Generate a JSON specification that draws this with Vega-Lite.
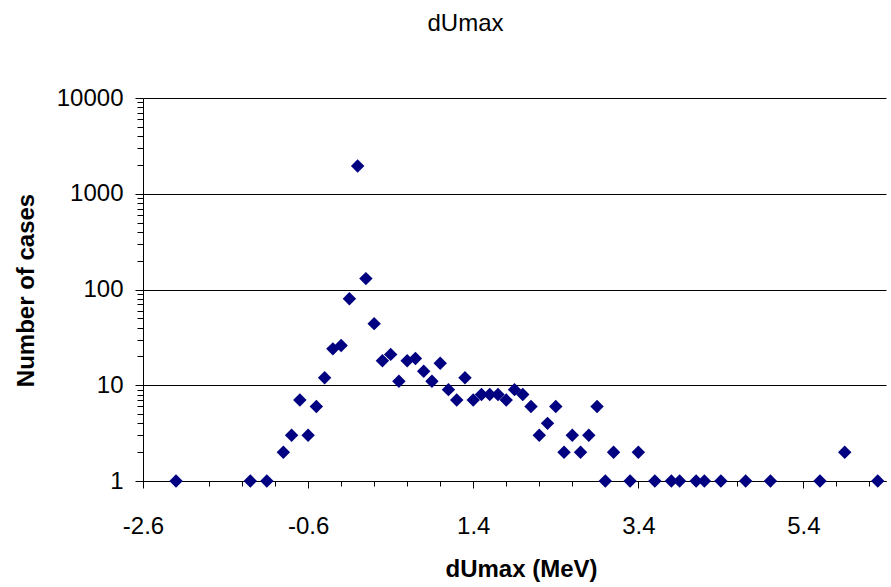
{
  "$schema": "https://vega.github.io/schema/vega-lite/v6.json",
  "width": 743,
  "height": 383,
  "autosize": {"type": "none"},
  "padding": {"left": 143, "top": 98, "right": 5, "bottom": 106},
  "background": "white",
  "config": {
    "view": {"stroke": null},
    "font": "Liberation Sans",
    "axis": {"labelFont": "Liberation Sans", "titleFont": "Liberation Sans", "labelColor": "black", "titleColor": "black", "tickColor": "black", "domainColor": "black", "gridColor": "black", "gridOpacity": 1, "domainWidth": 1, "tickWidth": 1, "gridWidth": 1}
  },
  "title": {"text": "dUmax", "fontSize": 24, "fontWeight": "normal", "font": "Liberation Sans", "color": "black", "offset": 50, "dx": -49, "anchor": "middle"},
  "data": {"values": [
    {"dUmax": -2.2, "cases": 1},
    {"dUmax": -1.3, "cases": 1},
    {"dUmax": -1.1, "cases": 1},
    {"dUmax": -0.9, "cases": 2},
    {"dUmax": -0.8, "cases": 3},
    {"dUmax": -0.7, "cases": 7},
    {"dUmax": -0.6, "cases": 3},
    {"dUmax": -0.5, "cases": 6},
    {"dUmax": -0.4, "cases": 12},
    {"dUmax": -0.3, "cases": 24},
    {"dUmax": -0.2, "cases": 26},
    {"dUmax": -0.1, "cases": 80},
    {"dUmax": 0.0, "cases": 1950},
    {"dUmax": 0.1, "cases": 130},
    {"dUmax": 0.2, "cases": 44},
    {"dUmax": 0.3, "cases": 18},
    {"dUmax": 0.4, "cases": 21},
    {"dUmax": 0.5, "cases": 11},
    {"dUmax": 0.6, "cases": 18},
    {"dUmax": 0.7, "cases": 19},
    {"dUmax": 0.8, "cases": 14},
    {"dUmax": 0.9, "cases": 11},
    {"dUmax": 1.0, "cases": 17},
    {"dUmax": 1.1, "cases": 9},
    {"dUmax": 1.2, "cases": 7},
    {"dUmax": 1.3, "cases": 12},
    {"dUmax": 1.4, "cases": 7},
    {"dUmax": 1.5, "cases": 8},
    {"dUmax": 1.6, "cases": 8},
    {"dUmax": 1.7, "cases": 8},
    {"dUmax": 1.8, "cases": 7},
    {"dUmax": 1.9, "cases": 9},
    {"dUmax": 2.0, "cases": 8},
    {"dUmax": 2.1, "cases": 6},
    {"dUmax": 2.2, "cases": 3},
    {"dUmax": 2.3, "cases": 4},
    {"dUmax": 2.4, "cases": 6},
    {"dUmax": 2.5, "cases": 2},
    {"dUmax": 2.6, "cases": 3},
    {"dUmax": 2.7, "cases": 2},
    {"dUmax": 2.8, "cases": 3},
    {"dUmax": 2.9, "cases": 6},
    {"dUmax": 3.0, "cases": 1},
    {"dUmax": 3.1, "cases": 2},
    {"dUmax": 3.3, "cases": 1},
    {"dUmax": 3.4, "cases": 2},
    {"dUmax": 3.6, "cases": 1},
    {"dUmax": 3.8, "cases": 1},
    {"dUmax": 3.9, "cases": 1},
    {"dUmax": 4.1, "cases": 1},
    {"dUmax": 4.2, "cases": 1},
    {"dUmax": 4.4, "cases": 1},
    {"dUmax": 4.7, "cases": 1},
    {"dUmax": 5.0, "cases": 1},
    {"dUmax": 5.6, "cases": 1},
    {"dUmax": 5.9, "cases": 2},
    {"dUmax": 6.3, "cases": 1}
  ]},
  "layer": [
    {
      "mark": {"type": "point", "shape": "diamond", "filled": true, "opacity": 0, "size": 10},
      "encoding": {
        "x": {"field": "dUmax", "type": "quantitative", "scale": {"domain": [-2.6, 6.4], "nice": false, "zero": false},
          "axis": {"orient": "bottom", "values": [-2.6,-2.2,-1.8,-1.4,-1.0,-0.6,-0.2,0.2,0.6,1.0,1.4,1.8,2.2,2.6,3.0,3.4,3.8,4.2,4.6,5.0,5.4,5.8,6.2], "labels": false, "domain": false, "grid": false, "tickSize": 5, "title": null}},
        "y": {"field": "cases", "type": "quantitative", "scale": {"type": "log", "domain": [1, 10000], "nice": false},
          "axis": {"orient": "left", "values": [2,3,4,5,6,7,8,9,20,30,40,50,60,70,80,90,200,300,400,500,600,700,800,900,2000,3000,4000,5000,6000,7000,8000,9000], "labels": false, "domain": false, "grid": false, "tickSize": 6, "title": null}}
      }
    },
    {
      "mark": {"type": "point", "shape": "diamond", "filled": true, "color": "#000080", "opacity": 1, "size": 180, "clip": false},
      "encoding": {
        "x": {"field": "dUmax", "type": "quantitative", "scale": {"domain": [-2.6, 6.4], "nice": false, "zero": false},
          "axis": {"orient": "bottom", "values": [-2.6, -0.6, 1.4, 3.4, 5.4], "labelExpr": "toString(datum.value)", "labelFontSize": 24, "labelPadding": 26, "tickSize": 7, "grid": false, "labelFlush": false,
            "title": "dUmax (MeV)", "titleFontSize": 24, "titleFontWeight": "bold", "titleX": 378, "titleY": 95, "titleAlign": "center", "titleBaseline": "alphabetic"}},
        "y": {"field": "cases", "type": "quantitative", "scale": {"type": "log", "domain": [1, 10000], "nice": false},
          "axis": {"orient": "left", "values": [1, 10, 100, 1000, 10000], "format": "d", "labelFontSize": 24, "labelPadding": 12, "tickSize": 8, "grid": true, "labelFlush": false,
            "title": "Number of cases", "titleFontSize": 24, "titleFontWeight": "bold", "titleAngle": -90, "titleX": -110, "titleY": 192, "titleAlign": "center", "titleBaseline": "alphabetic"}}
      }
    }
  ],
  "resolve": {"axis": {"x": "independent", "y": "independent"}}
}
